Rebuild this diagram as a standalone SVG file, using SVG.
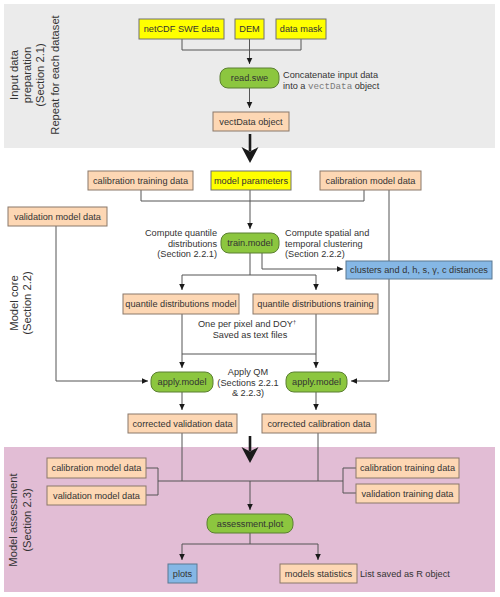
<svg xmlns="http://www.w3.org/2000/svg" width="500" height="597" viewBox="0 0 500 597">
<style>
text{font-family:"Liberation Sans",Arial,sans-serif;fill:#333;}
.n{font-size:9.2px;text-anchor:middle;}
.a{font-size:9.2px;}
.s{font-size:11.2px;text-anchor:middle;}
.mono{font-family:"Liberation Mono","Courier New",monospace;fill:#7a7a7a;}
.peach{fill:#fdd7b4;stroke:#8a786a;stroke-width:1;}
.yellow{fill:#ffff00;stroke:#707070;stroke-width:1;}
.green{fill:#8cc63f;stroke:#5b7f32;stroke-width:1;}
.blue{fill:#85b7e5;stroke:#5a7892;stroke-width:1;}
.c{fill:none;stroke:#555;stroke-width:1;}
.ca{fill:none;stroke:#555;stroke-width:1;marker-end:url(#ah);}
.big{fill:none;stroke:#1a1a1a;stroke-width:2.6;}
</style>
<defs>
<marker id="ah" markerUnits="userSpaceOnUse" markerWidth="8" markerHeight="8" viewBox="0 0 8 8" refX="6" refY="4" orient="auto">
<path d="M0,1.2 L6,4 L0,6.8 Z" fill="#1a1a1a"/>
</marker>
</defs>
<g id="sections">
<rect x="4" y="4" width="491" height="144" fill="#ebebeb"/>
<rect x="4" y="447" width="491" height="145" fill="#e2bdd5"/>
<text class="s" transform="translate(0,75) rotate(-90)"><tspan x="0" y="17.5">Input data</tspan><tspan x="0" y="30.8">preparation</tspan><tspan x="0" y="44">(Section 2.1)</tspan><tspan x="0" y="58.5">Repeat for each dataset</tspan></text>
<text class="s" transform="translate(0,303) rotate(-90)"><tspan x="0" y="17.5">Model core</tspan><tspan x="0" y="31">(Section 2.2)</tspan></text>
<text class="s" transform="translate(0,520) rotate(-90)"><tspan x="0" y="17">Model assessment</tspan><tspan x="0" y="30.5">(Section 2.3)</tspan></text>
</g>
<g id="connectors">
<path class="c" d="M182,39 V50 H301 V39"/>
<path class="ca" d="M249.5,39 V64"/>
<path class="ca" d="M249.5,88 V108"/>
<path class="big" d="M250,134 V151"/>
<path d="M241.5,147 L250,163 L258.5,147 L250,151.5 Z" fill="#1a1a1a"/>
<path class="c" d="M141,190 V201 H364 V190"/>
<path class="ca" d="M250,190 V229"/>
<path class="ca" d="M389,190 V381 H351"/>
<path class="ca" d="M56,226 V381 H148"/>
<path class="c" d="M250,253 V275 M182,275 H316"/>
<path class="ca" d="M182,275 V290"/>
<path class="ca" d="M316,275 V290"/>
<path class="ca" d="M262,253 V269 H343"/>
<path class="c" d="M182,354 H316"/>
<path class="ca" d="M182,314 V368"/>
<path class="ca" d="M316,314 V368"/>
<path class="ca" d="M182,392 V410"/>
<path class="ca" d="M316,392 V410"/>
<path class="big" d="M250,436 V451"/>
<path d="M241.5,447 L250,463 L258.5,447 L250,451.5 Z" fill="#1a1a1a"/>
<path class="c" d="M182,433 V481 M318,433 V481 M158,481 H343"/>
<path class="c" d="M146,468 H158 V495 H146"/>
<path class="c" d="M356,468 H343 V493 H356"/>
<path class="ca" d="M250,481 V510"/>
<path class="c" d="M250,533 V544 M182,544 H318"/>
<path class="ca" d="M182,544 V560"/>
<path class="ca" d="M318,544 V560"/>
</g>
<g id="netcdf"><rect class="yellow" x="139" y="19" width="85" height="20"/><text class="n" x="181.5" y="32.2">netCDF SWE data</text></g>
<g id="dem"><rect class="yellow" x="235" y="19" width="29" height="20"/><text class="n" x="249.5" y="32.2">DEM</text></g>
<g id="datamask"><rect class="yellow" x="276" y="19" width="50" height="20"/><text class="n" x="301" y="32.2">data mask</text></g>
<g id="readswe"><rect class="green" x="220" y="68" width="59" height="20" rx="8"/><text class="n" x="249.5" y="81.2">read.swe</text>
<text class="a" x="283" y="78">Concatenate input data</text>
<text class="a" x="283" y="89">into a <tspan class="mono">vectData</tspan> object</text></g>
<g id="vectdata"><rect class="peach" x="213" y="112" width="76" height="19"/><text class="n" x="251" y="124.7">vectData object</text></g>
<g id="caltrain"><rect class="peach" x="88" y="171" width="105" height="19"/><text class="n" x="140.5" y="183.7">calibration training data</text></g>
<g id="modelparams"><rect class="yellow" x="211" y="171" width="80" height="19"/><text class="n" x="251" y="183.7">model parameters</text></g>
<g id="calmodel"><rect class="peach" x="320" y="171" width="101" height="19"/><text class="n" x="370.5" y="183.7">calibration model data</text></g>
<g id="valmodel"><rect class="peach" x="8" y="207" width="99" height="19"/><text class="n" x="57.5" y="219.7">validation model data</text></g>
<g id="trainmodel"><rect class="green" x="221" y="233" width="58" height="20" rx="8"/><text class="n" x="250" y="246.2">train.model</text>
<text class="a" x="217" y="236" text-anchor="end">Compute quantile</text>
<text class="a" x="217" y="246.5" text-anchor="end">distributions</text>
<text class="a" x="217" y="257" text-anchor="end">(Section 2.2.1)</text>
<text class="a" x="285" y="236">Compute spatial and</text>
<text class="a" x="285" y="246.5">temporal clustering</text>
<text class="a" x="285" y="257">(Section 2.2.2)</text></g>
<g id="clusters"><rect class="blue" x="346" y="261" width="146" height="18"/><text class="n" x="419" y="273.2">clusters and d, h, s, γ, c distances</text></g>
<g id="qdmodel"><rect class="peach" x="123" y="294" width="116" height="20"/><text class="n" x="181" y="307.2">quantile distributions model</text></g>
<g id="qdtrain"><rect class="peach" x="253" y="294" width="125" height="20"/><text class="n" x="315.5" y="307.2">quantile distributions training</text></g>
<g id="qdnote">
<text class="a" x="247" y="327" text-anchor="middle">One per pixel and DOY<tspan font-size="5.5" dy="-3.5">†</tspan></text>
<text class="a" x="250" y="337.5" text-anchor="middle">Saved as text files</text></g>
<g id="applyleft"><rect class="green" x="151" y="372" width="62" height="20" rx="8"/><text class="n" x="182" y="385.2">apply.model</text></g>
<g id="applyright"><rect class="green" x="286" y="372" width="61" height="20" rx="8"/><text class="n" x="316.5" y="385.2">apply.model</text></g>
<g id="applynote">
<text class="a" x="248" y="375" text-anchor="middle">Apply QM</text>
<text class="a" x="248" y="385.5" text-anchor="middle">(Sections 2.2.1</text>
<text class="a" x="248" y="396" text-anchor="middle">&amp; 2.2.3)</text></g>
<g id="corrval"><rect class="peach" x="128" y="414" width="109" height="19"/><text class="n" x="182.5" y="426.7">corrected validation data</text></g>
<g id="corrcal"><rect class="peach" x="262" y="414" width="114" height="19"/><text class="n" x="319" y="426.7">corrected calibration data</text></g>
<g id="acalmodel"><rect class="peach" x="47" y="458" width="99" height="20"/><text class="n" x="96.5" y="471.2">calibration model data</text></g>
<g id="avalmodel"><rect class="peach" x="47" y="486" width="99" height="19"/><text class="n" x="96.5" y="498.7">validation model data</text></g>
<g id="acaltrain"><rect class="peach" x="356" y="458" width="103" height="20"/><text class="n" x="407.5" y="471.2">calibration training data</text></g>
<g id="avaltrain"><rect class="peach" x="356" y="484" width="103" height="19"/><text class="n" x="407.5" y="496.7">validation training data</text></g>
<g id="assessplot"><rect class="green" x="207" y="514" width="86" height="19" rx="8"/><text class="n" x="250" y="526.7">assessment.plot</text></g>
<g id="plots"><rect class="blue" x="168" y="564" width="29" height="19"/><text class="n" x="182.5" y="576.7">plots</text></g>
<g id="modelstats"><rect class="peach" x="280" y="564" width="77" height="19"/><text class="n" x="318.5" y="576.7">models statistics</text>
<text class="a" x="360" y="576.7">List saved as R object</text></g>
</svg>
